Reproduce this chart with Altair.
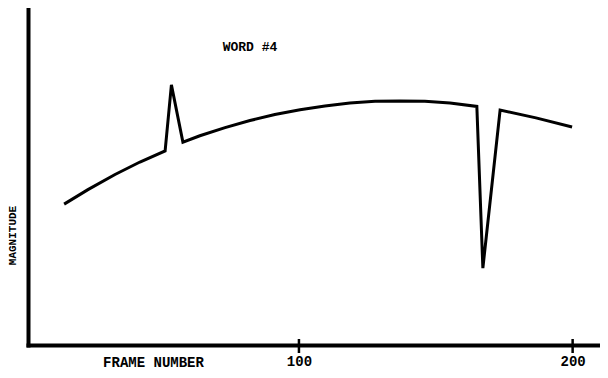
import altair as alt
import pandas as pd

# Curve (frame number vs. magnitude, arbitrary 0-100 units)
frames = [14.2, 22.9, 32.8, 41.9, 51.1, 53.4, 57.6, 63.8, 73.0, 82.1,
          91.2, 100.4, 109.5, 118.6, 127.8, 136.9, 146.0, 155.2, 165.0,
          167.2, 173.5, 186.6, 199.8]
magnitude = [41.8, 46.1, 50.6, 54.3, 57.6, 77.2, 60.2, 62.1, 64.5, 66.6,
             68.4, 69.8, 70.9, 71.8, 72.3, 72.4, 72.3, 71.8, 70.8,
             22.8, 69.7, 67.4, 64.7]
tick_values = [100, 200]
title_text = "WORD #4"
x_title = "FRAME NUMBER"
y_title = "MAGNITUDE"

FONT = "Liberation Mono"

df = pd.DataFrame({"frame": frames, "mag": magnitude})
ticks_df = pd.DataFrame({"frame": tick_values})

x_scale = alt.Scale(domain=[1, 210], nice=False, zero=False)
y_scale = alt.Scale(domain=[0, 100], nice=False)

line = alt.Chart(df).mark_line(color="black", strokeWidth=3, strokeJoin="miter").encode(
    x=alt.X("frame:Q", scale=x_scale,
            axis=alt.Axis(values=tick_values, ticks=False, grid=False,
                          domainColor="black", domainWidth=4, domainCap="square",
                          labelFont=FONT, labelFontWeight="bold", labelFontSize=14,
                          labelColor="black", labelPadding=9, labelFlush=False,
                          title=x_title, titleFont=FONT, titleFontWeight="bold",
                          titleFontSize=14, titleColor="black",
                          titleX=125, titleY=17, titleAlign="center",
                          titleBaseline="middle")),
    y=alt.Y("mag:Q", scale=y_scale,
            axis=alt.Axis(labels=False, ticks=False, grid=False,
                          domainColor="black", domainWidth=4, domainCap="square",
                          title=y_title, titleFont=FONT, titleFontWeight="bold",
                          titleFontSize=11, titleColor="black",
                          titleX=-16, titleY=227, titleAngle=270,
                          titleAlign="center", titleBaseline="middle")),
)

tick_marks = alt.Chart(ticks_df).mark_rule(color="black", strokeWidth=2.5).encode(
    x=alt.X("frame:Q", scale=x_scale),
    y=alt.value(331),
    y2=alt.value(345),
)

label = alt.Chart(pd.DataFrame({"t": [title_text]})).mark_text(
    font=FONT, fontWeight="bold", fontSize=13, color="black",
    align="center", baseline="middle"
).encode(
    x=alt.value(222),
    y=alt.value(39),
    text="t:N",
)

chart = alt.layer(line, tick_marks, label).properties(
    width=572,
    height=337,
    autosize=alt.AutoSizeParams(type="none"),
    padding={"left": 20, "top": 0, "right": 0, "bottom": 27},
    background="white",
).configure_view(strokeWidth=0)

chart.save("out.html", embed_options={"renderer": "svg", "actions": False})
